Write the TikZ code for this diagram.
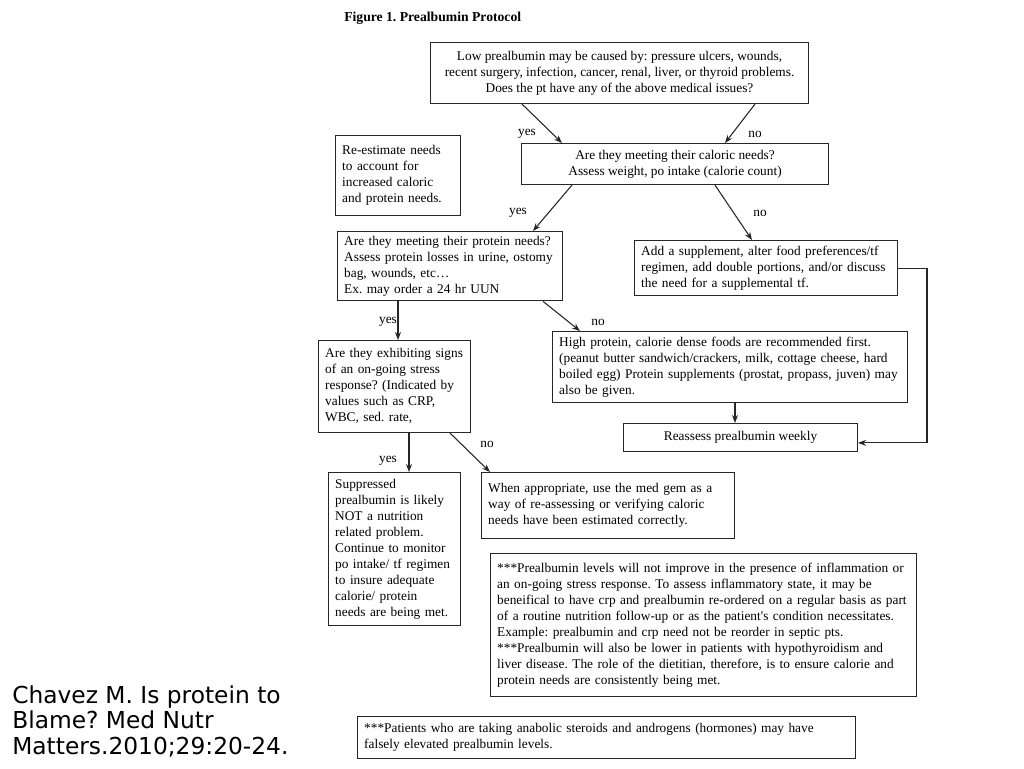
\documentclass[tikz,border=0pt]{standalone}
\usepackage{fontspec}
\setmainfont{Liberation Serif}
\newfontfamily\citefont{DejaVu Sans}
\usetikzlibrary{arrows.meta,calc}
\frenchspacing
\newcommand\boxlines[1]{\begin{tabular}{@{}l@{}}#1\end{tabular}}
\begin{document}
\begin{tikzpicture}[x=0.75pt,y=-0.75pt,
  box/.style={draw=black!85, line width=0.8pt, inner xsep=5pt, inner ysep=2pt,
    font=\fontsize{10}{12}\selectfont, anchor=north west},
  cbox/.style={box, align=center},
  lbox/.style={box, align=left},
  conn/.style={draw=black!85, line width=0.8pt, -{Stealth[length=6pt,width=4.5pt]}},
  lab/.style={font=\fontsize{10}{12}\selectfont, inner sep=0pt}]
\useasboundingbox[fill=white] (0,0) rectangle (1024,768);

\node[font=\bfseries\fontsize{10.25}{12}\selectfont, anchor=west, inner sep=0pt] (title) at (344,18) {Figure 1. Prealbumin Protocol};

\node[cbox, minimum width=283.5pt, minimum height=45.75pt] (top) at (430,42)
  {Low prealbumin may be caused by: pressure ulcers, wounds,\\ recent surgery, infection, cancer, renal, liver, or thyroid problems.\\ Does the pt have any of the above medical issues?};

\node[lbox, minimum width=93.75pt, minimum height=60pt, text width=83.75pt] (reest) at (335,135)
  {\boxlines{Re-estimate needs\\ to account for\\ increased caloric\\ and protein needs.}};

\node[cbox, minimum width=230.25pt, minimum height=30.75pt] (cal) at (521,143)
  {Are they meeting their caloric needs?\\ Assess weight, po intake (calorie count)};

\node[lbox, minimum width=168.75pt, minimum height=51.75pt, text width=158.75pt] (prot) at (337,231)
  {\boxlines{Are they meeting their protein needs?\\ Assess protein losses in urine, ostomy\\ bag, wounds, etc…\\ Ex. may order a 24 hr UUN}};

\node[lbox, minimum width=197.25pt, minimum height=41.25pt, text width=187.25pt] (supp) at (634,240)
  {\boxlines{Add a supplement, alter food preferences/tf\\ regimen, add double portions, and/or discuss\\ the need for a supplemental tf.}};

\node[lbox, minimum width=114pt, minimum height=69pt, text width=104pt] (stress) at (318,340)
  {\boxlines{Are they exhibiting signs\\ of an on-going stress\\ response? (Indicated by\\ values such as CRP,\\ WBC, sed. rate,}};

\node[lbox, minimum width=266.25pt, minimum height=53.25pt, text width=256.25pt] (high) at (552,331)
  {\boxlines{High protein, calorie dense foods are recommended first.\\ (peanut butter sandwich/crackers, milk, cottage cheese, hard\\ boiled egg) Protein supplements (prostat, propass, juven) may\\ also be given.}};

\node[cbox, minimum width=175.5pt, minimum height=21pt] (reas) at (623,423)
  {Reassess prealbumin weekly};

\node[lbox, minimum width=99pt, minimum height=114.75pt, text width=89pt] (suppr) at (328,472)
  {\boxlines{Suppressed\\ prealbumin is likely\\ NOT a nutrition\\ related problem.\\ Continue to monitor\\ po intake/ tf regimen\\ to insure adequate\\ calorie/ protein\\ needs are being met.}};

\node[lbox, minimum width=189.75pt, minimum height=49.5pt, text width=179.75pt] (when) at (481,472)
  {\boxlines{When appropriate, use the med gem as a\\ way of re-assessing or verifying caloric\\ needs have been estimated correctly.}};

\node[lbox, minimum width=319.5pt, minimum height=107.25pt, text width=309.5pt] (note) at (490,553)
  {\boxlines{***Prealbumin levels will not improve in the presence of inflammation or\\ an on-going stress response. To assess inflammatory state, it may be\\ beneifical to have crp and prealbumin re-ordered on a regular basis as part\\ of a routine nutrition follow-up or as the patient\textquotesingle s condition necessitates.\\ Example: prealbumin and crp need not be reorder in septic pts.\\{}***Prealbumin will also be lower in patients with hypothyroidism and\\ liver disease. The role of the dietitian, therefore, is to ensure calorie and\\ protein needs are consistently being met.}};

\node[lbox, minimum width=373.5pt, minimum height=31.5pt, text width=363.5pt] (bottom) at (357,716)
  {\boxlines{***Patients who are taking anabolic steroids and androgens (hormones) may have\\ falsely elevated prealbumin levels.}};

\node[font=\citefont\fontsize{17.5}{19.2}\selectfont, align=left, anchor=north west, inner sep=0pt] (cite) at (12,685)
  {Chavez M. Is protein to\\ Blame? Med Nutr\\ Matters.2010;29:20-24.};

% connectors
\draw[conn] ([xshift=69pt]top.south west) -- ([xshift=30.75pt]cal.north west);
\draw[conn] ([xshift=243.75pt]top.south west) -- ([xshift=153pt]cal.north west);
\draw[conn] ([xshift=38.25pt]cal.south west) -- ([xshift=147pt]prot.north west);
\draw[conn] ([xshift=145.5pt]cal.south west) -- ([xshift=88.5pt]supp.north west);
\draw[conn] ([xshift=45.75pt]prot.south west) -- ([xshift=60pt]stress.north west);
\draw[conn] ([xshift=-15pt]prot.south east) -- ([xshift=21pt]high.north west);
\draw[conn] ([xshift=68.25pt]stress.south west) -- ([xshift=60.75pt]suppr.north west);
\draw[conn] ([xshift=99pt]stress.south west) -- ([xshift=6.75pt]when.north west);
\draw[conn] ([xshift=137.25pt]high.south west) -- ([xshift=84pt]reas.north west);
\coordinate (rail) at (927,270);
\draw[conn] (supp.east) -- (supp.east -| rail) |- ([yshift=-4pt]reas.east);

% labels
\node[lab] (y1) at (527,134) {yes};
\node[lab] (n1) at (755,134) {no};
\node[lab] (y2) at (518,213) {yes};
\node[lab] (n2) at (760,213) {no};
\node[lab] (y3) at (388,322) {yes};
\node[lab] (n3) at (598,322) {no};
\node[lab] (y4) at (388,461) {yes};
\node[lab] (n4) at (487,444) {no};
\end{tikzpicture}
\end{document}
